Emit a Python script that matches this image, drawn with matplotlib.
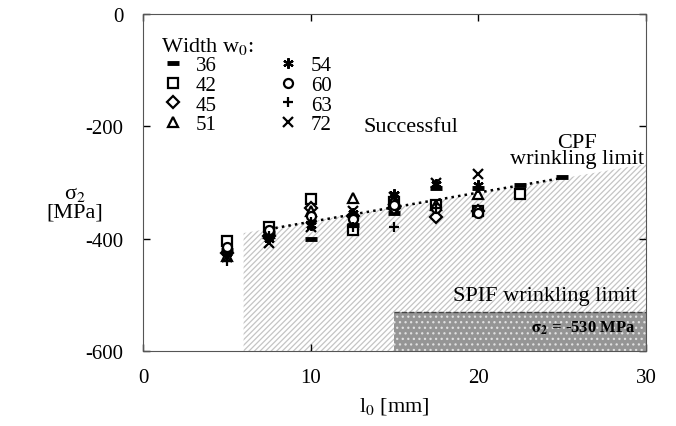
import numpy as np
from matplotlib import pyplot as plt

plt.rcParams['font.family'] = ['Liberation Serif', 'DejaVu Serif']
plt.rcParams['mathtext.fontset'] = 'stix'
plt.rcParams['axes.unicode_minus'] = False

# measured sigma_2 [MPa] per initial length l0 [mm], one list per width w0
l0 = [5, 7.5, 10, 12.5, 15, 17.5, 20, 22.5, 25]
widths = [36, 42, 45, 51, 54, 60, 63, 72]
sig = {
    36: [-420, -390, -400, -375, -355, -310, -310, -305, -290],
    42: [-405, -380, -330, -385, -335, -340, -350, -320, None],
    45: [-425, -395, -345, -360, -345, -362, -350, None, None],
    51: [-430, -390, -350, -328, -330, -340, -320, None, None],
    54: [-425, -400, -375, -355, -320, -303, -305, None, None],
    60: [-415, -385, -360, -365, -340, -345, -355, None, None],
    63: [-440, -395, -370, -380, -380, -345, -310, None, None],
    72: [-432, -408, -380, -350, -325, -300, -285, None, None],
}
markers = {36: '_', 42: 's', 45: 'D', 51: '^', 54: (6, 2, 0), 60: 'o', 63: '+', 72: 'x'}

# CPF wrinkling limit (hatched zone boundary) and SPIF limit
cpf_x = [6, 30]
cpf_y = [-390, -267]
cpf_line_x = [7.5, 25]
cpf_line_y = [-383, -292]
spif_x = [15, 30]
spif_y = -530

fig = plt.figure(figsize=(6.76, 4.27), dpi=100)
ax = fig.add_axes([0.2115, 0.1756, 0.7441, 0.7893])

plt.rcParams['hatch.linewidth'] = 0.9
ax.fill_between(cpf_x, cpf_y, -600, facecolor='white', edgecolor='#c4c4c4',
                hatch='//////', linewidth=0, zorder=1)
ax.fill_between(spif_x, spif_y, -600, facecolor='#959595', edgecolor='#e0e0e0',
                hatch='...', linewidth=0, zorder=2)
ax.plot(spif_x, [spif_y, spif_y], color='#444444', ls='--', lw=1, zorder=3)
ax.plot(cpf_line_x, cpf_line_y, color='black', ls=':', lw=1.8, zorder=3)

for w in widths:
    xs = [x for x, v in zip(l0, sig[w]) if v is not None]
    ys = [v for v in sig[w] if v is not None]
    m = markers[w]
    if w == 36:
        ax.plot(xs, ys, ls='none', marker=m, ms=8, mew=3.5, color='black', label=str(w), zorder=4)
    elif m in ('s', 'D', '^', 'o'):
        ax.plot(xs, ys, ls='none', marker=m, ms=6.5 if m != 'D' else 6, mew=1.6, mfc='white',
                mec='black', label=str(w), zorder=4)
    else:
        ax.plot(xs, ys, ls='none', marker=m, ms=7.5, mew=1.6, color='black', label=str(w), zorder=4)

leg = ax.legend(ncol=2, loc='upper left', frameon=False, title='Width w$_0$:',
                fontsize=15, title_fontsize=16, handletextpad=0.5, columnspacing=2.8,
                labelspacing=0.0, handlelength=1.2, borderaxespad=0.2,
                bbox_to_anchor=(0.01, 0.975))
leg._legend_box.align = 'left'

ax.text(16, -200, 'Successful', fontsize=16, ha='center', va='center')
ax.text(25.9, -243, 'CPF\nwrinkling limit', fontsize=16, ha='center', va='center', linespacing=0.85)
ax.text(24, -502, 'SPIF wrinkling limit', fontsize=16, ha='center', va='center')
ax.text(29.4, -557, r'$\mathbf{\sigma_2}$ = -530 MPa', fontsize=12, ha='right', va='center',
        fontweight='bold', zorder=5)

ax.set_xlim(0, 30)
ax.set_ylim(-600, 0)
ax.set_xticks([0, 10, 20, 30])
ax.set_yticks([-600, -400, -200, 0])
ax.tick_params(direction='in', top=True, right=True, labelsize=15, length=5, width=1)
ax.tick_params(axis='y', pad=14)
ax.tick_params(axis='x', pad=12)
for s in ax.spines.values():
    s.set_color('#555555')
ax.set_xlabel('l$_0$ [mm]', fontsize=16, labelpad=6)
ax.set_ylabel('σ$_2$\n[MPa]', fontsize=16, rotation=0, va='center', ha='center',
              multialignment='center', linespacing=0.9)
ax.yaxis.set_label_coords(-0.135, 0.44)

fig.savefig('out.png', dpi=100)
